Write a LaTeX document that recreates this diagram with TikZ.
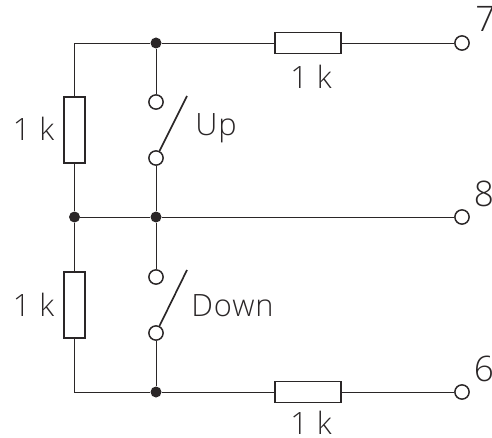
\documentclass[tikz,border=0pt]{standalone}
\usepackage{fontspec}
\setmainfont[LetterSpace=3]{Open Sans Light}
\usepackage{xcolor}
\usetikzlibrary{positioning}
\definecolor{wire}{HTML}{2A2627}
\tikzstyle{line} = [draw=wire, line width=0.55pt]
\tikzstyle{res} = [draw=wire, line width=0.8pt, fill=white, rectangle, inner sep=0pt]
\tikzstyle{hres} = [res, minimum width=1.32cm, minimum height=0.42cm]
\tikzstyle{vres} = [res, minimum width=0.42cm, minimum height=1.32cm]
\tikzstyle{dot} = [circle, fill=wire, inner sep=0pt, minimum size=0.22cm]
\tikzstyle{term} = [circle, draw=wire, line width=0.85pt, fill=white, inner sep=0pt, minimum size=0.285cm]
\tikzstyle{lab} = [text=wire, inner sep=0pt, anchor=base west, font=\fontsize{17.5}{20}\selectfont]
\tikzstyle{num} = [lab, font=\fontsize{20}{23}\selectfont]

\begin{document}
\begin{tikzpicture}
    \useasboundingbox (0, 0) rectangle (9.84, 8.74);

    % Corners and junctions
    \coordinate (topleft) at (1.49, 7.88);
    \coordinate (botleft) at (1.49, 0.90);
    \node[dot] (jtop) at (3.12, 7.88) {};
    \node[dot] (jleft) at (1.49, 4.40) {};
    \node[dot] (jmid) at (3.12, 4.40) {};
    \node[dot] (jbot) at (3.12, 0.90) {};

    % Terminals
    \node[term] (t7) at (9.24, 7.88) {};
    \node[term] (t8) at (9.24, 4.40) {};
    \node[term] (t6) at (9.24, 0.90) {};

    % Resistors
    \node[vres] (rup) at (1.49, 6.14) {};
    \node[vres] (rdown) at (1.49, 2.64) {};
    \node[hres] (rtop) at (6.16, 7.88) {};
    \node[hres] (rbot) at (6.16, 0.90) {};

    % Switch contacts
    \node[term] (upa) at (3.12, 6.70) {};
    \node[term] (upb) at (3.12, 5.58) {};
    \node[term] (downa) at (3.12, 3.20) {};
    \node[term] (downb) at (3.12, 2.08) {};
    \coordinate (upend) at (3.74, 6.82);
    \coordinate (downend) at (3.74, 3.34);

    % Wires
    \draw[line] (rup) -- (topleft) -- (jtop) -- (rtop) -- (t7);
    \draw[line] (rup) -- (jleft) -- (rdown);
    \draw[line] (rdown) -- (botleft) -- (jbot) -- (rbot) -- (t6);
    \draw[line] (jleft) -- (jmid) -- (t8);
    \draw[line] (jtop) -- (upa);
    \draw[line] (upb) -- (jmid) -- (downa);
    \draw[line] (downb) -- (jbot);

    % Blades
    \draw[draw=wire, line width=0.95pt] (upb) -- (upend);
    \draw[draw=wire, line width=0.95pt] (downb) -- (downend);

    % Labels
    \node[lab] (lup) at (0.25, 5.92) {1 k};
    \node[lab] (ldown) at (0.25, 2.42) {1 k};
    \node[lab] (ltop) at (5.80, 6.96) {1 k};
    \node[lab] (lbot) at (5.80, 0.06) {1 k};
    \node[lab] (sup) at (3.90, 6.02) {Up};
    \node[lab] (sdown) at (3.82, 2.42) {Down};

    % Numbers
    \node[num] (n7) at (9.50, 8.10) {7};
    \node[num] (n8) at (9.47, 4.62) {8};
    \node[num] (n6) at (9.47, 1.12) {6};
\end{tikzpicture}
\end{document}
